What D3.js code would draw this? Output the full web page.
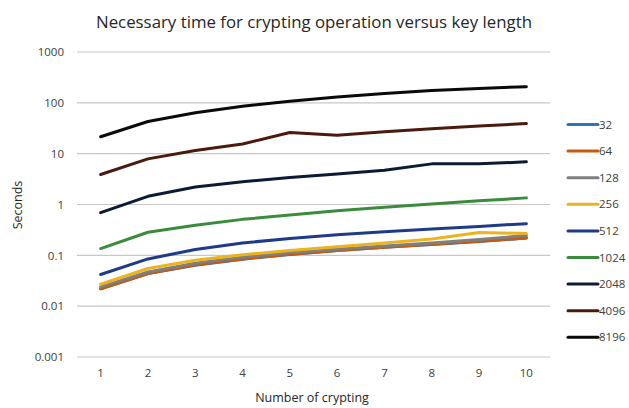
<!DOCTYPE html>
<html>
<head>
<meta charset="utf-8">
<script src="https://cdn.jsdelivr.net/npm/d3@7"></script>
<style>
  html, body { margin: 0; padding: 0; background: #fff; }
  svg { display: block; font-family: "Open Sans", "Liberation Sans", sans-serif; }
</style>
</head>
<body>
<svg id="chart" width="629" height="408"></svg>
<script>
const categories = [1, 2, 3, 4, 5, 6, 7, 8, 9, 10];
const seriesNames = ["32", "64", "128", "256", "512", "1024", "2048", "4096", "8196"];
const s32   = [0.022, 0.044, 0.064, 0.084, 0.104, 0.124, 0.144, 0.164, 0.188, 0.218];
const s64   = [0.022, 0.044, 0.065, 0.085, 0.105, 0.125, 0.145, 0.165, 0.19, 0.22];
const s128  = [0.024, 0.047, 0.07, 0.092, 0.112, 0.132, 0.153, 0.175, 0.205, 0.245];
const s256  = [0.027, 0.055, 0.08, 0.103, 0.125, 0.148, 0.175, 0.21, 0.28, 0.27];
const s512  = [0.042, 0.085, 0.13, 0.175, 0.215, 0.255, 0.29, 0.33, 0.37, 0.42];
const s1024 = [0.136, 0.285, 0.39, 0.51, 0.62, 0.75, 0.88, 1.02, 1.18, 1.35];
const s2048 = [0.69, 1.45, 2.2, 2.8, 3.4, 4.0, 4.7, 6.3, 6.3, 6.9];
const s4096 = [3.9, 7.9, 11.5, 15.5, 26, 23, 27, 31, 35, 39];
const s8196 = [21.5, 43, 64, 86, 107, 130, 153, 175, 192, 208];
const seriesValues = [s32, s64, s128, s256, s512, s1024, s2048, s4096, s8196];
const seriesColors = ["#2E75B6", "#C55A11", "#7F7F7F", "#EBB41E", "#1F3B87", "#3A8C3C", "#0C1A33", "#4A1A0E", "#0A0A0A"];
const yTicks = [0.001, 0.01, 0.1, 1, 10, 100, 1000];
const yTickLabels = ["0.001", "0.01", "0.1", "1", "10", "100", "1000"];
const titleText = "Necessary time for crypting operation versus key length";
const xTitle = "Number of crypting";
const yTitle = "Seconds";

const svg = d3.select("#chart");
const margin = { left: 77, right: 550, top: 52, bottom: 357 };

const x = d3.scaleBand().domain(categories).range([margin.left, margin.right]);
const y = d3.scaleLog().domain([0.001, 1000]).range([margin.bottom, margin.top]);

// gridlines
svg.append("g").selectAll("line").data(yTicks).join("line")
  .attr("x1", margin.left).attr("x2", margin.right)
  .attr("y1", d => y(d)).attr("y2", d => y(d))
  .attr("stroke", "#C8C8C8").attr("stroke-width", 1.2);

// y axis labels
const yAxis = d3.axisLeft(y).tickValues(yTicks).tickFormat((d, i) => yTickLabels[i]).tickSize(0).tickPadding(13);
const gy = svg.append("g").attr("transform", `translate(${margin.left},0)`).call(yAxis);
gy.select(".domain").remove();
gy.selectAll("text").attr("font-size", 11.5).attr("fill", "#404040").attr("font-family", "Open Sans, sans-serif");

// x axis labels
const xAxis = d3.axisBottom(x).tickSize(0).tickPadding(12);
const gx = svg.append("g").attr("transform", `translate(0,${margin.bottom})`).call(xAxis);
gx.select(".domain").remove();
gx.selectAll("text").attr("font-size", 11.5).attr("fill", "#404040").attr("font-family", "Open Sans, sans-serif");

// lines
const line = d3.line()
  .x((d, i) => x(categories[i]) + x.bandwidth() / 2)
  .y(d => y(d));

svg.append("g").selectAll("path").data(seriesValues).join("path")
  .attr("d", d => line(d))
  .attr("fill", "none")
  .attr("stroke", (d, i) => seriesColors[i])
  .attr("stroke-width", 3)
  .attr("stroke-linejoin", "round")
  .attr("stroke-linecap", "round");

// title
svg.append("text")
  .attr("x", 314).attr("y", 28)
  .attr("text-anchor", "middle")
  .attr("font-size", 17)
  .attr("fill", "#262626")
  .attr("textLength", 436)
  .attr("lengthAdjust", "spacingAndGlyphs")
  .text(titleText);

// axis titles
svg.append("text")
  .attr("x", 312).attr("y", 402)
  .attr("text-anchor", "middle")
  .attr("font-size", 12.5)
  .attr("fill", "#262626")
  .text(xTitle);

svg.append("text")
  .attr("transform", "translate(22,205) rotate(-90)")
  .attr("text-anchor", "middle")
  .attr("font-size", 12.5)
  .attr("fill", "#262626")
  .text(yTitle);

// legend
const legend = svg.append("g");
const lg = legend.selectAll("g").data(seriesNames).join("g")
  .attr("transform", (d, i) => `translate(568,${124.5 + i * 26.6})`);
lg.append("line")
  .attr("x1", 0).attr("x2", 30).attr("y1", 0).attr("y2", 0)
  .attr("stroke", (d, i) => seriesColors[i]).attr("stroke-width", 3)
  .attr("stroke-linecap", "round");
lg.append("text")
  .attr("x", 31).attr("y", 0).attr("dy", "0.36em")
  .attr("font-size", 11.5).attr("fill", "#404040")
  .text(d => d);
</script>
</body>
</html>
